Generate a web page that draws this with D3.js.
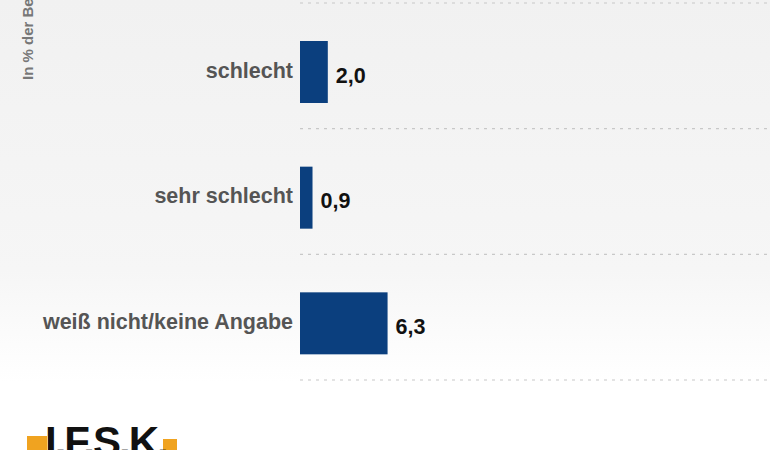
<!DOCTYPE html>
<html><head><meta charset="utf-8">
<script src="https://cdn.jsdelivr.net/npm/d3@7"></script>
<style>body{margin:0;background:#fff;}svg{display:block;}</style>
</head><body>
<script>
const categories = ["schlecht", "sehr schlecht", "weiß nicht/keine Angabe"];
const values = [2.0, 0.9, 6.3];
const axisTitle = "In % der Befragten";
const logoText = "I.F.S.K.";

const W = 770, H = 450;
const svg = d3.select("body").append("svg").attr("width", W).attr("height", H);

const defs = svg.append("defs");
const grad = defs.append("linearGradient").attr("id","bg").attr("x1",0).attr("y1",0).attr("x2",0).attr("y2",1);
grad.append("stop").attr("offset","0%").attr("stop-color","#f1f1f1");
grad.append("stop").attr("offset","60%").attr("stop-color","#f6f6f6");
grad.append("stop").attr("offset","85%").attr("stop-color","#ffffff");
svg.append("rect").attr("width",W).attr("height",H).attr("fill","url(#bg)");

const x0 = 300;
const x = d3.scaleLinear().domain([0, 10]).range([x0, x0 + 139]);
const y = d3.scaleBand().domain(categories).range([3, 380]).paddingInner(0).paddingOuter(0);

const gridYs = [3].concat(categories.map(c => y(c) + y.bandwidth()));
svg.append("g").selectAll("line").data(gridYs).join("line")
  .attr("x1", x0).attr("x2", W).attr("y1", d => d).attr("y2", d => d)
  .attr("stroke", "#c8c8c8").attr("stroke-width", 1.2).attr("stroke-dasharray", "3,5");

const barH = 62, barOff = 38;
svg.append("g").selectAll("rect").data(categories).join("rect")
  .attr("x", x(0)).attr("y", c => y(c) + barOff)
  .attr("width", (c,i) => x(values[i]) - x(0)).attr("height", barH)
  .attr("fill", "#0b3f7e");

svg.append("g").selectAll("text").data(categories).join("text")
  .attr("x", x0 - 7).attr("y", c => y(c) + barOff + barH/2 - 2)
  .attr("dy", "0.35em").attr("text-anchor", "end")
  .attr("font-family", "Liberation Sans, Arial, sans-serif").attr("font-weight", "bold")
  .attr("font-size", 21.5).attr("fill", "#555")
  .text(c => c);

const fmt = v => d3.format(".1f")(v).replace(".", ",");
svg.append("g").selectAll("text").data(categories).join("text")
  .attr("x", (c,i) => x(values[i]) + 8).attr("y", c => y(c) + barOff + barH/2 + 3)
  .attr("dy", "0.35em")
  .attr("font-family", "Liberation Sans, Arial, sans-serif").attr("font-weight", "bold")
  .attr("font-size", 21.5).attr("fill", "#111")
  .text((c,i) => fmt(values[i]));

svg.append("text").attr("transform", "translate(33,80) rotate(-90)")
  .attr("font-family", "Liberation Sans, Arial, sans-serif").attr("font-weight", "bold")
  .attr("font-size", 15).attr("fill", "#777")
  .text(axisTitle);

svg.append("rect").attr("x", 27).attr("y", 436).attr("width", 20).attr("height", 14).attr("fill", "#f0a320");
svg.append("rect").attr("x", 163).attr("y", 439).attr("width", 14).attr("height", 11).attr("fill", "#f0a320");
svg.append("text").attr("x", 45).attr("y", 456)
  .attr("font-family", "Liberation Sans, Arial, sans-serif").attr("font-weight", "bold")
  .attr("font-size", 42).attr("fill", "#111").attr("letter-spacing", -2)
  .text(logoText);
</script>
</body></html>
